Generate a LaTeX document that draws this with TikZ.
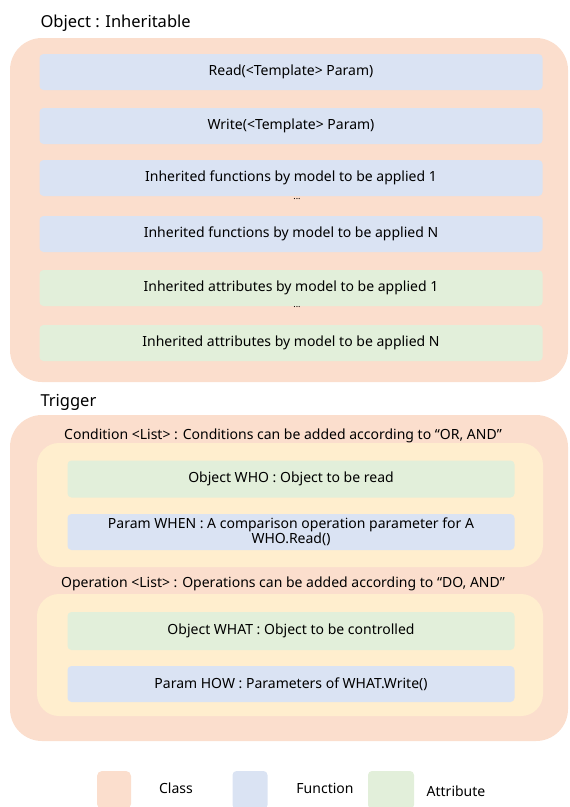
\documentclass[tikz,border=0pt]{standalone}
\usepackage{fontspec}
\setmainfont{Noto Sans}
\definecolor{classcol}{RGB}{251,222,205}
\definecolor{funccol}{RGB}{218,227,243}
\definecolor{attrcol}{RGB}{226,239,218}
\definecolor{listcol}{RGB}{255,238,206}

\tikzstyle{classbox} = [rectangle, rounded corners=32pt, fill=classcol, draw=none, inner sep=0pt]
\tikzstyle{listbox} = [rectangle, rounded corners=22pt, fill=listcol, draw=none, inner sep=0pt]
\tikzstyle{func} = [rectangle, rounded corners=4pt, fill=funccol, minimum width=503pt, minimum height=36pt, text centered, font=\fontsize{14}{16}\selectfont]
\tikzstyle{attr} = [func, fill=attrcol]
\tikzstyle{title} = [anchor=base west, font=\fontsize{16.5}{19}\selectfont]
\tikzstyle{caption} = [anchor=base, font=\fontsize{14}{16}\selectfont]
\tikzstyle{dots} = [font=\fontsize{9}{10}\selectfont]

\begin{document}
\begin{tikzpicture}[x=1pt, y=-1pt]
		\useasboundingbox (0,0) rectangle (570,807);
		% Object
		\node (objtitle) [title] at (37,27) {Object : Inheritable};
		\node (objclass) [classbox, minimum width=558pt, minimum height=344pt] at (289,210) {};
		\node (read) [func] at (291,72) {Read(<Template> Param)};
		\node (write) [func] at (291,126) {Write(<Template> Param)};
		\node (inhfunc1) [func] at (291,178) {Inherited functions by model to be applied 1};
		\node (fdots) [dots] at (297,199) {...};
		\node (inhfuncN) [func] at (291,234) {Inherited functions by model to be applied N};
		\node (inhattr1) [attr] at (291,288) {Inherited attributes by model to be applied 1};
		\node (adots) [dots] at (297,307) {...};
		\node (inhattrN) [attr] at (291,343) {Inherited attributes by model to be applied N};
		% Trigger
		\node (trigtitle) [title] at (37,406) {Trigger};
		\node (trigclass) [classbox, minimum width=558pt, minimum height=326pt] at (289,578) {};
		\node (condtext) [caption] at (283,439) {Condition <List> : Conditions can be added according to “OR, AND”};
		\node (condlist) [listbox, minimum width=506pt, minimum height=124pt] at (290,505) {};
		\node (who) [attr, minimum width=447pt, minimum height=37pt] at (291,479) {Object WHO : Object to be read};
		\node (when) [func, minimum width=447pt, align=center, font=\fontsize{14}{15}\selectfont] at (291,532) {Param WHEN : A comparison operation parameter for A\\WHO.Read()};
		\node (optext) [caption] at (283,587) {Operation <List> : Operations can be added according to “DO, AND”};
		\node (oplist) [listbox, minimum width=506pt, minimum height=122pt] at (290,655) {};
		\node (what) [attr, minimum width=447pt, minimum height=38pt] at (291,631) {Object WHAT : Object to be controlled};
		\node (how) [func, minimum width=447pt] at (291,684) {Param HOW : Parameters of WHAT.Write()};
		% Legend
		\node (legclass) [classbox, rounded corners=5pt, minimum width=34pt, minimum height=38pt] at (114,790) {};
		\node (legfunc) [func, minimum width=35pt, minimum height=38pt] at (250,790) {};
		\node (legattr) [attr, minimum width=46pt, minimum height=38pt] at (391,790) {};
		\node [caption] at (176,793) {Class};
		\node [caption] at (325,793) {Function};
		\node [caption] at (456,796) {Attribute};
	\end{tikzpicture}
\end{document}
